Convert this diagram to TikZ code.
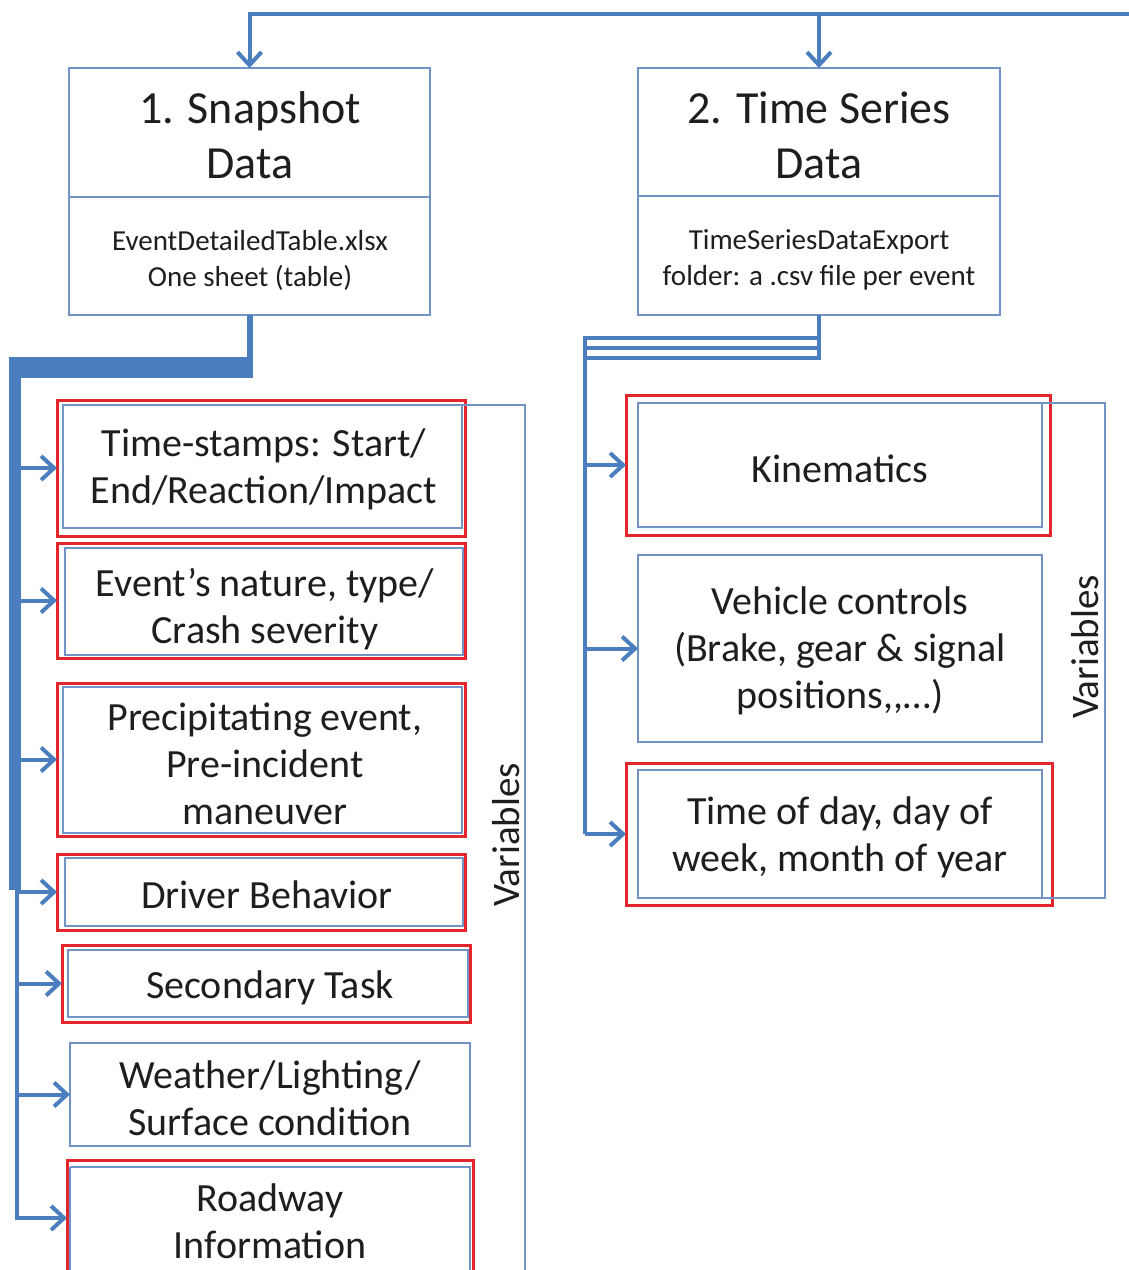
\documentclass[tikz,border=0pt]{standalone}
\usepackage{fontspec}
\setmainfont{Carlito}
\usetikzlibrary{arrows.meta}
\definecolor{flowblue}{HTML}{4A7EBF}
\definecolor{boxblue}{HTML}{7193C8}
\definecolor{boxred}{HTML}{E3262B}
\definecolor{txt}{HTML}{1E1E1E}
\begin{document}
\begin{tikzpicture}[x=1pt,y=-1pt,
  flow/.style={draw=flowblue, line width=4pt},
  tip/.style={-{Straight Barb[length=13pt,width=24pt]}},
  bb/.style={draw=boxblue, line width=2.5pt},
  rb/.style={draw=boxred, line width=3pt},
  frame/.style={inner sep=0, outer sep=0},
  lbl/.style={text=txt, align=center, inner sep=0, font=\fontsize{40}{47}\selectfont},
  head/.style={text=txt, align=center, inner sep=0, font=\fontsize{46}{55}\selectfont},
  sub/.style={text=txt, align=center, inner sep=0, font=\fontsize{29}{36}\selectfont},
  vlab/.style={text=txt, inner sep=0, rotate=90, font=\fontsize{39}{47}\selectfont},
]
\useasboundingbox (0,0) rectangle (1129,1270);

% ---- source boxes
\node[frame, bb, minimum width=361, minimum height=247] (B1) at (249.5,191.5) {};
\draw[bb] (69,197) -- (430,197);
\node[head] (B1h) at (250,135) {1. Snapshot\\Data};
\node[sub] (B1s) at (250,260) {EventDetailedTable.xlsx\\One sheet (table)};

\node[frame, bb, minimum width=362, minimum height=247] (B2) at (819,191.5) {};
\draw[bb] (638,196) -- (1000,196);
\node[head] (B2h) at (819,135) {2. Time Series\\Data};
\node[sub] (B2s) at (819,260) {TimeSeriesDataExport\\folder: a .csv file per event};

% ---- top feed
\coordinate (src) at (1140,14);
\draw[flow,tip] (src) -| (B1.north);
\draw[flow,tip] (B2.north |- src) -- (B2.north);

% ---- left items
\node[frame, rb, minimum width=408, minimum height=136] (L1) at (261,468) {};
\draw[bb] (63,405) rectangle (462,528);
\node[lbl] (L1t) at (264,469) {Time-stamps: Start/\\End/Reaction/Impact};

\node[frame, rb, minimum width=408, minimum height=115] (L2) at (261,600.5) {};
\draw[bb] (65,548) rectangle (463,655);
\node[lbl] (L2t) at (265,609) {Event’s nature, type/\\Crash severity};

\node[frame, rb, minimum width=408, minimum height=153] (L3) at (261,759.5) {};
\draw[bb] (63,687) rectangle (462,833);
\node[lbl] (L3t) at (265,764) {Precipitating event,\\Pre-incident\\maneuver};

\node[frame, rb, minimum width=408, minimum height=76] (L4) at (261,892) {};
\draw[bb] (65,858) rectangle (463,926);
\node[lbl] (L4t) at (267,895) {Driver Behavior};

\node[frame, rb, minimum width=408, minimum height=77] (L5) at (266,983.5) {};
\draw[bb] (68,950) rectangle (468,1017);
\node[lbl] (L5t) at (270,988) {Secondary Task};

\node[frame, bb, minimum width=400, minimum height=103] (L6) at (270,1094.5) {};
\node[lbl] (L6t) at (270,1098) {Weather/Lighting/\\Surface condition};

\node[frame, rb, minimum width=406, minimum height=116] (L7) at (270,1218) {};
\draw[bb] (70,1167) -- (70,1290) (70,1167) -- (470,1167) -- (470,1290);
\node[lbl] (L7t) at (270,1221) {Roadway\\Information};

% left bracket
\draw[bb] (463,405) -- (525,405) -- (525,1290);
\node[vlab] (V1) at (506,835) {Variables};

% ---- right items
\node[frame, rb, minimum width=424, minimum height=140] (R1) at (838,465) {};
\draw[bb] (638,403) rectangle (1042,527);
\node[lbl] (R1t) at (840,469) {Kinematics};

\node[frame, bb, minimum width=404, minimum height=187] (R2) at (840,648.5) {};
\node[lbl] (R2t) at (840,651) {Vehicle controls\\(Brake, gear \& signal\\positions{,}{,}…)};

\node[frame, rb, minimum width=426, minimum height=142] (R3) at (839,834) {};
\draw[bb] (638,770) rectangle (1042,898);
\node[lbl] (R3t) at (840,837) {Time of day, day of\\week, month of year};

% right bracket
\draw[bb] (1042,403) -- (1105,403) -- (1105,898) -- (1042,898);
\node[vlab] (V2) at (1085,647) {Variables};

% ---- left trunk
\coordinate (LT) at (17,0);
\draw[draw=flowblue, line width=6pt] (B1.south) -- ++(0,52);
\fill[flowblue] (10,357) rectangle (253,378);
\fill[flowblue] (9,357) rectangle (21,890);
\draw[flow] (17,885) -- (17,1220);
\foreach \n in {L1,L2,L3,L4,L5,L6,L7}
  \draw[flow,tip] (\n.west -| LT) -- (\n.west);

% ---- right trunk
\coordinate (RT) at (585,0);
\draw[flow] (B2.south) -- ++(0,44);
\draw[flow, line width=3.5pt] (585,338) -- (821,338);
\draw[flow, line width=3.5pt] (585,348) -- (821,348);
\draw[flow, line width=3.5pt] (585,358) -- (821,358);
\draw[flow] (585,336) -- (585,834);
\foreach \n in {R1,R2,R3}
  \draw[flow,tip] (\n.west -| RT) -- (\n.west);
\end{tikzpicture}
\end{document}
